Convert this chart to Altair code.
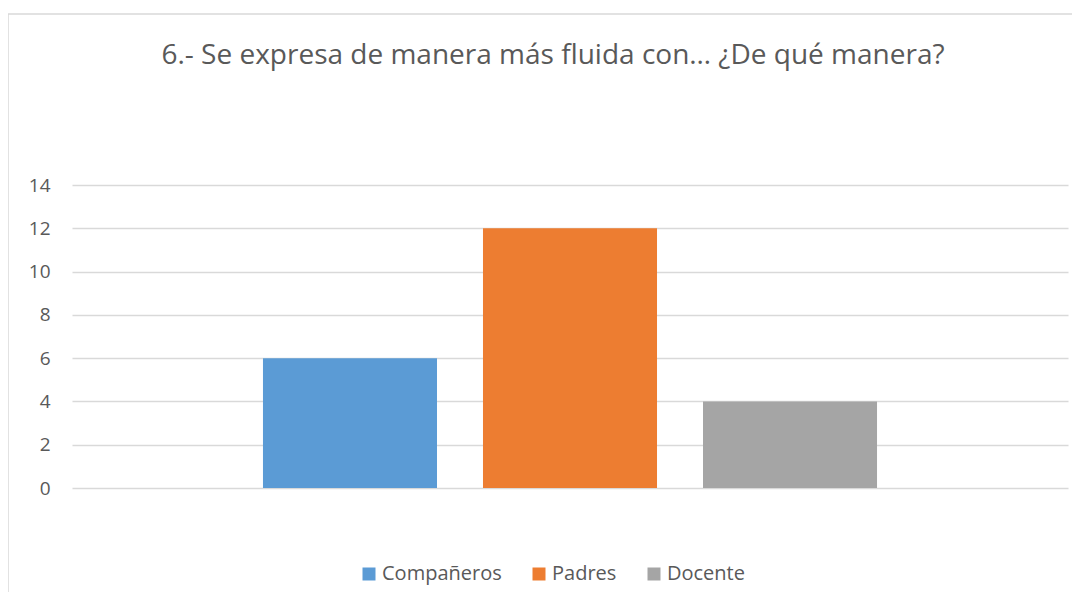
import altair as alt
import pandas as pd

categories = ["Compañeros", "Padres", "Docente"]
values = [6, 12, 4]
colors = ["#5B9BD5", "#ED7D31", "#A5A5A5"]
y_ticks = [0, 2, 4, 6, 8, 10, 12, 14]
title_text = "6.- Se expresa de manera más fluida con… ¿De qué manera?"

df = pd.DataFrame({"serie": categories, "valor": values})
frame_df = pd.DataFrame({"f": [0]})

FONT = "Open Sans"
TXT = "#595959"

frame = alt.Chart(frame_df).mark_rect(
    fill="transparent", stroke="#D9D9D9", strokeWidth=1.5
).encode(
    x=alt.value(-64), x2=alt.value(1200), y=alt.value(-171), y2=alt.value(700)
)

bars = alt.Chart(df).mark_bar().encode(
    x=alt.X("serie:N", sort=categories, axis=None,
            scale=alt.Scale(paddingInner=0.209, paddingOuter=0.868)),
    y=alt.Y("valor:Q",
            scale=alt.Scale(domain=[0, 14], nice=False),
            axis=alt.Axis(values=y_ticks, grid=True, domain=False, ticks=False,
                          tickSize=0, title=None, labelPadding=22,
                          labelFont=FONT, labelFontSize=19, labelColor=TXT,
                          gridColor="#D9D9D9", gridWidth=1.3)),
    color=alt.Color("serie:N",
                    scale=alt.Scale(domain=categories, range=colors),
                    legend=alt.Legend(orient="none", legendX=287, legendY=379,
                                      direction="horizontal", title=None,
                                      symbolType="square", symbolSize=169,
                                      symbolStrokeWidth=0, symbolOpacity=1,
                                      labelFont=FONT, labelFontSize=20,
                                      labelColor=TXT, columnPadding=27,
                                      labelOffset=3)),
)

chart = alt.layer(frame, bars).properties(
    width=996,
    height=303,
    padding={"left": 64, "top": 177, "right": 4, "bottom": 104},
    autosize=alt.AutoSizeParams(type="none"),
    title=alt.TitleParams(title_text, font=FONT, fontSize=28, fontWeight="normal",
                          color=TXT, anchor="middle", dx=-17, offset=0, dy=79,
                          baseline="alphabetic"),
).configure_view(stroke=None)

chart.save("out.html", embed_options={"renderer": "svg", "actions": False})
